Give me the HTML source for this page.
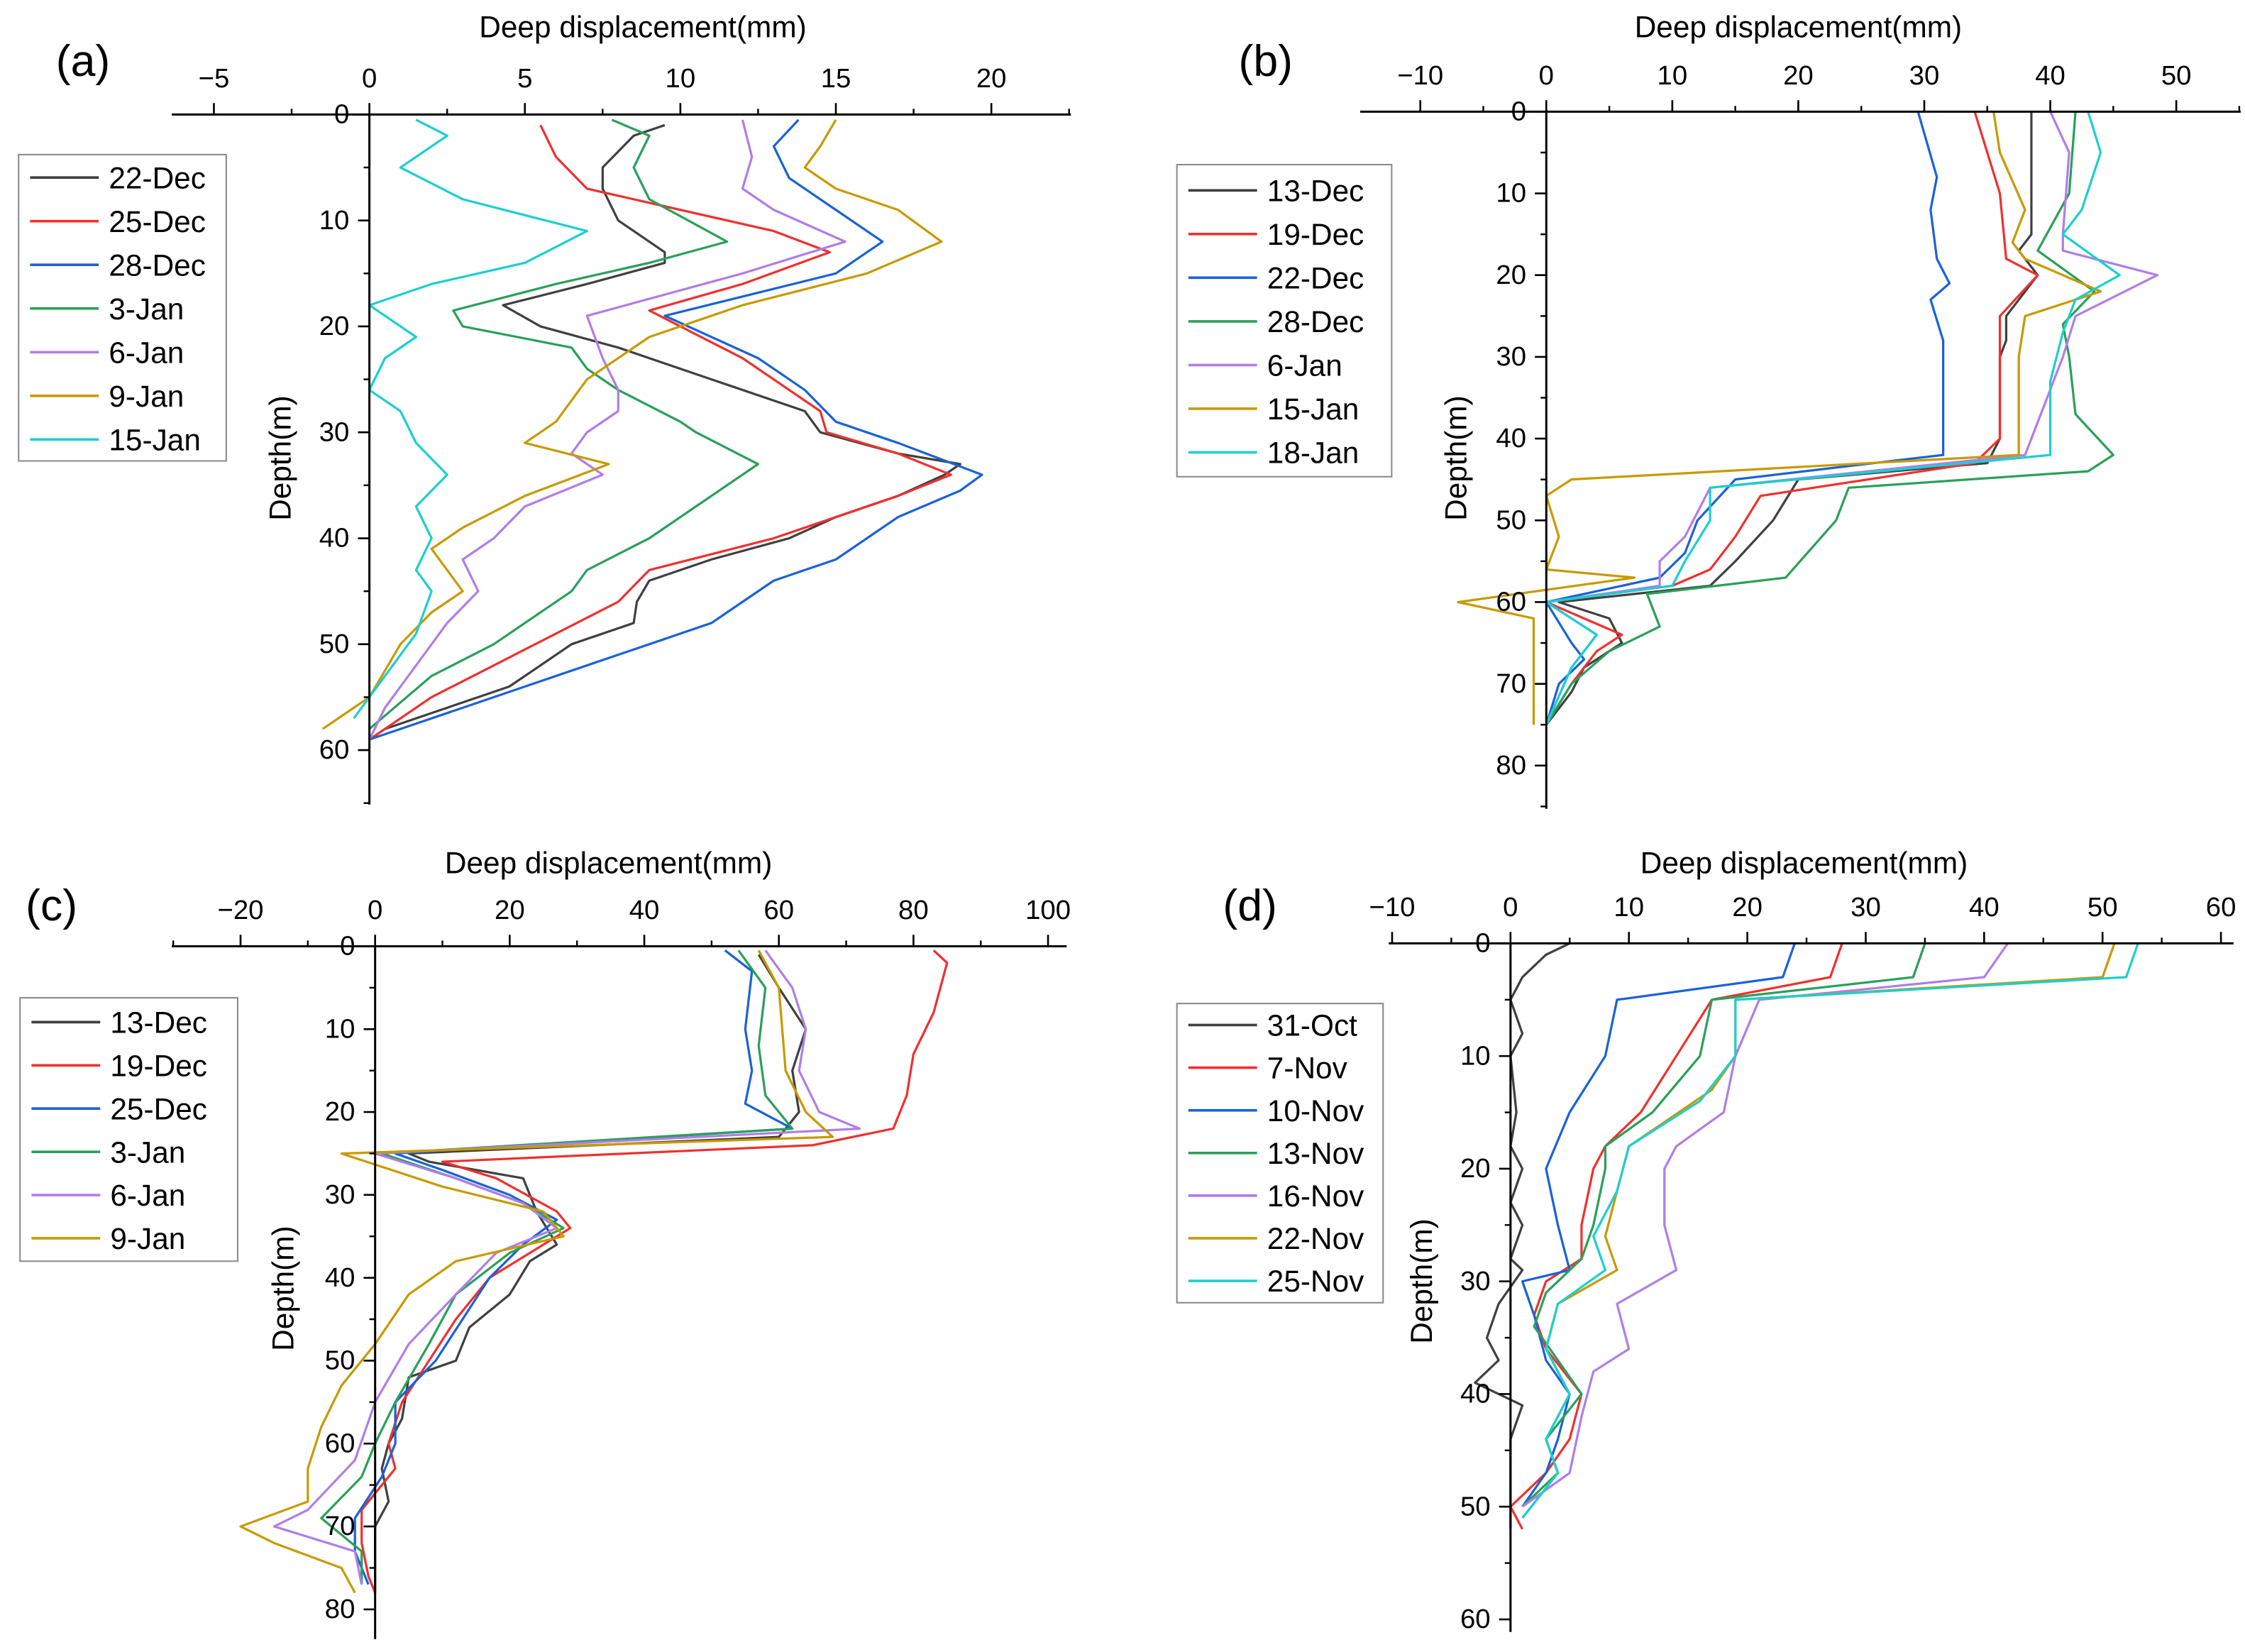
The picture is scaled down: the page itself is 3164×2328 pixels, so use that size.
<!DOCTYPE html>
<html><head><meta charset="utf-8">
<style>
html,body{margin:0;padding:0;background:#fff;}
svg{display:block;font-family:"Liberation Sans",Arial,sans-serif;}
</style></head>
<body>
<svg id="fig" width="3164" height="2328" viewBox="0 0 1568 1154" preserveAspectRatio="none" xmlns="http://www.w3.org/2000/svg"></svg>
<script>
const colors = ["#404040","#f03030","#1a62d8","#2aa05a","#b07ee6","#c89a00","#1ccfd0"];

// Panel (a)
const aLabels = ["22-Dec","25-Dec","28-Dec","3-Jan","6-Jan","9-Jan","15-Jan"];
const aXTicks = [-5,0,5,10,15,20];
const aYTicks = [0,10,20,30,40,50,60];
const aDepths = [
 [1,2,5,7,10,12,13,14,16,18,20,22,25,28,30,32,33,34,36,38,40,42,44,46,48,50,52,54,56,58,59],
 [1,4,7,9,11,13,16,18.5,20,23,28,30,32,34,36,40,43,46,49,52,55,59],
 [0.5,3,6,9,12,15,19,23,24,26,29,31,34,35.5,38,42,44,48,50,53,56,59],
 [0.5,2,5,8,12,14,16,18.5,20,22,24,26,29,30,33,36,40,43,45,48,50,53,58],
 [0.5,4,7,9,12,15,19,23,26,28,30,32,34,37,40,42,45,48,52,56,59],
 [0.5,3,5,7,9,12,15,18,21,25,29,31,33,36,39,41,45,47,50,55,58],
 [0.5,2,5,8,11,14,16,18,21,23,26,28,31,34,37,40,43,45,49,53,57]];
const aValues = [
 [9.5,8.5,7.5,7.5,8,9,9.5,9.5,7,4.3,5.5,8,11,14,14.5,17,19,18.5,17,15,13.5,11,9,8.6,8.5,6.5,5.5,4.5,2.5,0.5,0],
 [5.5,6,7,10,13,14.8,12,9,10,12,14.5,14.7,17,18.7,17,13,9,8,6,4,2,0],
 [13.8,13,13.5,15,16.5,15,9.5,12.5,13,14,15,17,19.7,19,17,15,13,11,9,6,3,0],
 [7.8,9,8.5,9,11.5,9,6,2.7,3,6.5,7,8,10,10.5,12.5,11,9,7,6.5,5,4,2,0],
 [12,12.3,12,13,15.3,12,7,7.5,8,8,7,6.5,7.5,5,4,3,3.5,2.5,1.5,0.5,0],
 [15,14.5,14,15,17,18.4,16,12,9,7,6,5,7.7,5,3,2,3,2,1,0,-1.5],
 [1.5,2.5,1,3,7,5,2,0,1.5,0.5,0,1,1.5,2.5,1.5,2,1.5,2,1.5,0.5,-0.5]];

// Panel (b)
const bLabels = ["13-Dec","19-Dec","22-Dec","28-Dec","6-Jan","15-Jan","18-Jan"];
const bXTicks = [-10,0,10,20,30,40,50];
const bYTicks = [0,10,20,30,40,50,60,70,80];
const bDepths = [
 [0,15,17,20,25,28,30,40,43,45,50,55,58,60,62,65,68,71,75],
 [0,10,18,20,25,40,43,47,52,56,58,60,64,66,70,75],
 [0,8,12,18,21,23,28,35,42,45,50,54,57,60,65,67,70,75],
 [0,10,17,22,26,30,37,42,44,46,50,57,59,63,66,70,75],
 [0,5,15,17,20,25,30,38,42,46,52,55,58,60,64,68,75],
 [0,5,12,16,18,22,25,30,42,45,47,52,56,57,60,62,66,70,75],
 [0,5,12,15,20,23,27,33,42,46,50,55,58,60,64,68,75]];
const bValues = [
 [38.5,38.5,37.5,39,36.5,36.5,36,36,35,20,18,15,13,1,5,6,3,2,0],
 [34,36,36.5,39,36,36,34,17,15,13,10,0,6,4,2,0],
 [29.5,31,30.5,31,32,30.5,31.5,31.5,31.5,15,12,11,9,0,2,3,1,0],
 [42,41.5,39,43.5,41,41.5,42,45,43,24,23,19,8,9,5,2,0],
 [40,41.5,41,41,48.5,42,41,39,38,13,11,9,9,0,4,2,0],
 [35.5,36,38,37,38,44,38,37.5,37.5,2,0,1,0,7,-7,-1,-1,-1,-1],
 [43,44,42.5,41,45.5,42,41,40,40,13,13,11,10,0,4,2,0]];

// Panel (c)
const cLabels = ["13-Dec","19-Dec","25-Dec","3-Jan","6-Jan","9-Jan"];
const cXTicks = [-20,0,20,40,60,80,100];
const cYTicks = [0,10,20,30,40,50,60,70,80];
const cDepths = [
 [1,5,10,15,20,23,25,26,28,32,36,38,42,46,50,52,57,60,63,67,70,78],
 [0.5,2,8,13,18,22,24,26,28,32,34,37,40,45,50,55,60,63,68,72,76,78],
 [0.5,3,10,15,19,22,25,27,30,33,36,40,45,50,55,60,64,69,73,77],
 [0.5,5,12,18,22,25,28,31,34,37,42,48,55,60,64,69,73,77],
 [0.5,5,10,15,20,22,25,28,31,34,37,42,48,55,62,68,70,73,77],
 [0.5,5,15,20,23,25,29,32,35,38,42,48,53,58,63,67,70,72,75,78]];
const cValues = [
 [57,60,64,62,63,60,5,8,22,24,27,23,20,14,12,5,4,2,1,2,0,0],
 [83,85,83,80,79,77,65,10,18,27,29,23,17,12,8,4,2,3,-2,-2,-1,0],
 [52,56,55,56,55,62,3,10,20,27,22,17,13,9,3,3,1,-3,-3,-1],
 [54,58,57,58,62,1,12,22,28,20,12,8,3,0,-2,-8,-2,-2],
 [58,62,64,63,66,72,0,12,22,27,18,12,5,0,-3,-10,-15,-3,-2],
 [57,60,61,64,68,-5,10,25,28,12,5,0,-5,-8,-10,-10,-20,-15,-5,-3]];

// Panel (d)
const dLabels = ["31-Oct","7-Nov","10-Nov","13-Nov","16-Nov","22-Nov","25-Nov"];
const dXTicks = [-10,0,10,20,30,40,50,60];
const dYTicks = [0,10,20,30,40,50,60];
const dDepths = [
 [0,1,3,5,8,10,15,18,20,23,25,28,29,32,35,37,39,40,41,44,48,52],
 [0,3,5,10,15,18,20,25,28,30,33,36,40,44,47,50,52],
 [0,3,5,10,15,20,25,29,30,33,37,40,44,47,50],
 [0,3,5,10,15,18,20,25,28,31,34,37,40,44,47,50],
 [0,3,5,10,15,18,20,25,29,32,36,38,42,47,50],
 [0,3,5,10,13,18,22,26,29,32,36,40,44,47,51],
 [0,3,5,10,14,18,22,26,29,32,36,40,44,47,51]];
const dValues = [
 [5,3,1,0,1,0,0.5,0,1,0,1,0,1,-1,-2,-1,-3,-1,1,0,0,0],
 [28,27,17,14,11,8,7,6,6,3,2,3,6,5,3,0,1],
 [24,23,9,8,5,3,4,5,1,2,3,5,4,3,1],
 [35,34,17,16,12,8,8,7,6,3,2,4,6,3,4,1],
 [42,40,21,19,18,14,13,13,14,9,10,7,6,5,1],
 [51,50,19,19,17,10,9,8,9,4,3,5,3,4,1],
 [53,52,19,19,16,10,9,7,8,4,3,5,3,4,1]];

const NS="http://www.w3.org/2000/svg";
const svg=document.getElementById('fig');
function mk(tag,attrs,parent,text){const e=document.createElementNS(NS,tag);for(const k in attrs)e.setAttribute(k,attrs[k]);if(text!==undefined)e.textContent=text;(parent||svg).appendChild(e);return e;}
function fmt(t){return t<0?'\u2212'+Math.abs(t):String(t);}

const panels=[
 {id:'a',labels:aLabels,xt:aXTicks,yt:aYTicks,D:aDepths,V:aValues,x0:258,xs:21.72,y0:80,ys:7.4,axL:120,axR:748,yEnd:562,title:[449,18],plab:[58,42],ytitle:[203,320],leg:[13,108,145,214,124,30.5]},
 {id:'b',labels:bLabels,xt:bXTicks,yt:bYTicks,D:bDepths,V:bValues,x0:1080,xs:8.8,y0:78,ys:5.71,axL:950,axR:1565,yEnd:565,title:[1256,18],plab:[884,42],ytitle:[1024,320],leg:[822,115,150,218,133,30.5]},
 {id:'c',labels:cLabels,xt:cXTicks,yt:cYTicks,D:cDepths,V:cValues,x0:262,xs:4.7,y0:661,ys:5.79,axL:120,axR:745,yEnd:1145,title:[425,602],plab:[36,632],ytitle:[205,900],leg:[14,697,152,184,714,30.2]},
 {id:'d',labels:dLabels,xt:dXTicks,yt:dYTicks,D:dDepths,V:dValues,x0:1055,xs:8.27,y0:659,ys:7.87,axL:970,axR:1560,yEnd:1140,title:[1260,602],plab:[873,632],ytitle:[1000,895],leg:[822,701,144,209,716,29.8]}
];

panels.forEach(p=>{
 const g=mk('g',{});
 
 
 const X=v=>p.x0+v*p.xs, Y=d=>p.y0+d*p.ys;
 p.D.forEach((ds,i)=>{
  const pts=ds.map((d,j)=>X(p.V[i][j]).toFixed(1)+','+Y(d).toFixed(1)).join(' ');
  const l=mk('polyline',{points:pts,fill:'none',stroke:colors[i],'stroke-width':1.6,'stroke-linejoin':'round'},g);
  
  
 });
 const xa=mk('line',{x1:p.axL,y1:p.y0,x2:p.axR,y2:p.y0,stroke:'#000','stroke-width':1.5},g);
 
 
 const step=p.xt[1]-p.xt[0];
 p.xt.forEach(t=>{
  mk('line',{x1:X(t),y1:p.y0,x2:X(t),y2:p.y0-8,stroke:'#000','stroke-width':1.3},g);
  const mx=X(t+step/2);
  if(mx<p.axR) mk('line',{x1:mx,y1:p.y0,x2:mx,y2:p.y0-4,stroke:'#000','stroke-width':1.2},g);
  const tl=mk('text',{x:X(t),y:p.y0-19,'font-size':19,'text-anchor':'middle'},g,fmt(t));
  
  
 });
 const fm=X(p.xt[0]-step/2); if(fm>p.axL) mk('line',{x1:fm,y1:p.y0,x2:fm,y2:p.y0-4,stroke:'#000','stroke-width':1.2},g);
 const ya=mk('line',{x1:p.x0,y1:p.y0,x2:p.x0,y2:p.yEnd,stroke:'#000','stroke-width':1.5},g);
 
 
 const ystep=p.yt[1]-p.yt[0];
 p.yt.forEach(t=>{
  mk('line',{x1:p.x0,y1:Y(t),x2:p.x0-8,y2:Y(t),stroke:'#000','stroke-width':1.3},g);
  const my=Y(t+ystep/2); if(my<p.yEnd) mk('line',{x1:p.x0,y1:my,x2:p.x0-4,y2:my,stroke:'#000','stroke-width':1.2},g);
  const tl=mk('text',{x:p.x0-14,y:Y(t)+6,'font-size':19,'text-anchor':'end'},g,fmt(t));
  
  
 });
 const t1=mk('text',{x:p.title[0],y:p.title[1]+8,'font-size':21,'text-anchor':'middle'},g,'Deep displacement(mm)');
 
 
 const t2=mk('text',{x:p.ytitle[0],y:p.ytitle[1],'font-size':21,'text-anchor':'middle',transform:'rotate(-90 '+p.ytitle[0]+' '+p.ytitle[1]+')'},g,'Depth(m)');
 
 
 const t3=mk('text',{x:p.plab[0],y:p.plab[1]+11,'font-size':31,'text-anchor':'middle'},g,'('+p.id+')');
 
 
 const [lx,ly,lw,lh,e0,es]=p.leg;
 const lg=mk('g',{},g);
 
 
 mk('rect',{x:lx,y:ly,width:lw,height:lh,fill:'#fff',stroke:'#888','stroke-width':1},lg);
 p.labels.forEach((lab,i)=>{
  const yy=e0+i*es;
  const eg=mk('g',{},lg);
  
  
  mk('line',{x1:lx+8,y1:yy,x2:lx+56,y2:yy,stroke:colors[i],'stroke-width':1.8},eg);
  mk('text',{x:lx+63,y:yy+7.5,'font-size':21},eg,lab);
 });
});
</script>
</body></html>
